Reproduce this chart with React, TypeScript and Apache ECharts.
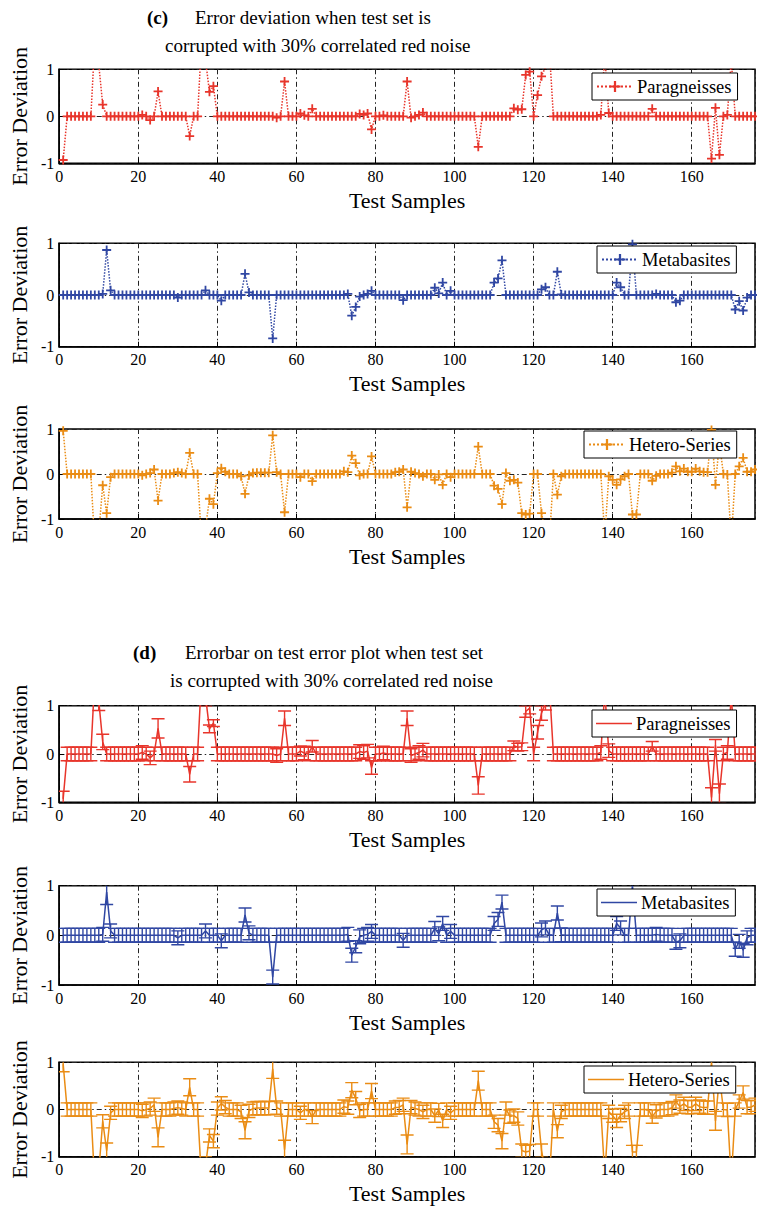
import React, { useEffect, useRef } from "react";
import * as echarts from "echarts";

const FONT = "'Liberation Serif', 'Times New Roman', serif";

const seriesNames = ["Paragneisses", "Metabasites", "Hetero-Series"];
const seriesColors = ["#e8352b", "#3047a3", "#ea8c14"];
const xTickInterval = 20;
const xMax = 176;
const yTicks = [-1, 0, 1];

// Error deviation per test sample (samples 1..176)
const paragneisses = [
  -0.93, 0, 0, 0, 0, 0, 0, 0, 1.6, 1.1,
  0.25, 0, 0, 0, 0, 0, 0, 0, 0, 0,
  0.03, 0, -0.08, 0, 0.53, 0, 0, 0, 0, 0,
  0, 0, -0.42, 0, 0, 1.6, 1.2, 0.52, 0.64, 0,
  0, 0, 0, 0, 0, 0, 0, 0, 0, 0,
  0, 0, 0, 0, -0.03, 0, 0.74, 0, 0, 0,
  0.06, 0.02, 0, 0.16, 0, 0, 0, 0, 0, 0,
  0, 0, 0, 0, 0, 0.05, 0.03, 0.06, -0.28, 0,
  0, 0.02, 0, 0, 0, 0, 0, 0.74, -0.03, 0,
  0.03, 0.08, 0, 0, 0, 0, 0, 0, 0, 0,
  0, 0, 0, 0, 0, -0.65, 0, 0, 0, 0,
  0, 0, 0, 0, 0.17, 0.14, 0.15, 0.88, 0.95, 0,
  0.45, 0.85, 1.05, 1.4, 0, 0, 0, 0, 0, 0,
  0, 0, 0, 0, 0, 0, 0.03, 1.3, 0.07, 0,
  0, 0, 0, 0, 0, 0, 0, 0, 0, 0.16,
  0, 0, 0, 0, 0, 0, 0, 0, 0, 0,
  0, 0, 0, 0, -0.9, 0.18, -0.82, 0, 0.03, 1.2,
  0, 0, 0, 0, 0, 0,
];

const metabasites = [
  0, 0, 0, 0, 0, 0, 0, 0, 0, 0,
  0.02, 0.87, 0.09, 0, 0, 0, 0, 0, 0, 0,
  0, 0, 0, 0, 0, 0, 0, 0, 0, -0.05,
  0, 0, 0, 0, 0, 0, 0.09, 0, 0, 0,
  -0.11, 0, 0, 0, 0, 0, 0.41, 0.05, 0, 0,
  0, 0, 0, -0.84, 0, 0, 0, 0, 0, 0,
  0, 0, 0, 0, 0, 0, 0, 0, 0, 0,
  0, 0, 0.02, -0.4, -0.23, -0.03, 0, 0.02, 0.08, 0,
  0, 0, 0, 0, 0, 0, -0.1, 0, 0, 0,
  0, 0, 0, 0, 0.14, 0.03, 0.24, 0, 0.08, 0,
  0, 0, 0, 0, 0, 0, 0, 0, 0, 0.24,
  0.32, 0.67, 0, 0, 0, 0, 0, 0, 0, 0,
  0, 0.11, 0.15, 0, 0, 0.45, 0.01, 0, 0, 0,
  0, 0, 0, 0, 0, 0, 0, 0, 0, 0,
  0.24, 0.15, 0, 0, 0.98, 0, 0, 0, 0, 0,
  0.02, 0, 0, 0, 0, -0.14, -0.11, 0, 0, 0,
  0, 0, 0, 0, 0, 0, 0, 0, 0, 0,
  -0.28, -0.12, -0.3, -0.05, 0, 0,
];

const heteroSeries = [
  0.96, 0, 0, 0, 0, 0, 0, 0, -1.6, -1.32,
  -0.25, -0.87, -0.07, 0, 0, 0, 0, 0, 0, 0,
  -0.03, 0, 0.02, 0.1, -0.59, 0, 0, 0, 0.02, 0.04,
  0.02, 0, 0.47, 0, 0, -1.5, -1.2, -0.55, -0.67, 0.02,
  0.13, 0.05, 0, 0, 0, -0.05, -0.44, -0.03, 0.02, 0.03,
  0.03, 0.03, 0.03, 0.86, 0.04, 0, -0.85, 0, 0, 0,
  -0.07, 0, 0, -0.16, 0, 0, 0, 0, 0, 0,
  0, 0.06, 0.04, 0.41, 0.24, -0.03, 0, 0, 0.39, 0,
  0, 0, 0, 0, 0.04, 0.05, 0.1, -0.74, 0.05, 0.02,
  0, -0.05, 0, 0, -0.13, -0.01, -0.24, 0, -0.07, 0,
  0, 0, 0, 0, 0, 0.61, 0, 0, 0, -0.26,
  -0.33, -0.67, 0.02, -0.15, -0.13, -0.19, -0.87, -0.9, -0.88, 0,
  0, -0.87, -1.3, -1.5, 0, -0.46, -0.05, 0, 0, 0,
  0, 0, 0, 0, 0, 0, 0, -1.4, -0.05, -0.13,
  -0.24, -0.12, -0.05, 0, -0.9, -0.9, 0, 0, 0, -0.15,
  -0.04, 0, 0, 0, 0.03, 0.17, 0.06, 0.12, 0.05, 0.05,
  0.12, 0.06, 0.04, 0.04, 0.98, -0.24, 0.7, 0, -0.01, -1.5,
  0, 0.17, 0.36, 0.05, 0.05, 0.1,
];

// Error-bar half lengths for the (d) panels
const paragneissesErr = [
  0.16, 0.14, 0.14, 0.14, 0.14, 0.14, 0.14, 0.14, 0.2, 0.2,
  0.16, 0.14, 0.14, 0.14, 0.14, 0.14, 0.14, 0.14, 0.14, 0.14,
  0.14, 0.14, 0.14, 0.14, 0.2, 0.14, 0.14, 0.14, 0.14, 0.14,
  0.14, 0.14, 0.16, 0.14, 0.14, 0.2, 0.2, 0.08, 0.07, 0.14,
  0.14, 0.14, 0.14, 0.14, 0.14, 0.14, 0.14, 0.14, 0.14, 0.14,
  0.14, 0.14, 0.14, 0.14, 0.14, 0.14, 0.15, 0.14, 0.14, 0.14,
  0.1, 0.14, 0.14, 0.12, 0.14, 0.14, 0.14, 0.14, 0.14, 0.14,
  0.14, 0.14, 0.14, 0.14, 0.14, 0.14, 0.14, 0.14, 0.14, 0.14,
  0.14, 0.14, 0.14, 0.14, 0.14, 0.14, 0.14, 0.15, 0.14, 0.14,
  0.14, 0.14, 0.14, 0.14, 0.14, 0.14, 0.14, 0.14, 0.14, 0.14,
  0.14, 0.14, 0.14, 0.14, 0.14, 0.18, 0.14, 0.14, 0.14, 0.14,
  0.14, 0.14, 0.14, 0.14, 0.1, 0.08, 0.08, 0.12, 0.12, 0.14,
  0.14, 0.15, 0.14, 0.14, 0.14, 0.14, 0.14, 0.14, 0.14, 0.14,
  0.14, 0.14, 0.14, 0.14, 0.14, 0.14, 0.14, 0.14, 0.14, 0.14,
  0.14, 0.14, 0.14, 0.14, 0.14, 0.14, 0.14, 0.14, 0.14, 0.1,
  0.14, 0.14, 0.14, 0.14, 0.14, 0.14, 0.14, 0.14, 0.14, 0.14,
  0.14, 0.14, 0.14, 0.14, 0.2, 0.12, 0.2, 0.14, 0.14, 0.14,
  0.14, 0.14, 0.14, 0.14, 0.14, 0.14,
];

const metabasitesErr = [
  0.14, 0.14, 0.14, 0.14, 0.14, 0.14, 0.14, 0.14, 0.14, 0.14,
  0.14, 0.25, 0.14, 0.14, 0.14, 0.14, 0.14, 0.14, 0.14, 0.14,
  0.14, 0.14, 0.14, 0.14, 0.14, 0.14, 0.14, 0.14, 0.14, 0.14,
  0.14, 0.14, 0.14, 0.14, 0.14, 0.14, 0.14, 0.14, 0.14, 0.14,
  0.14, 0.14, 0.14, 0.14, 0.14, 0.14, 0.14, 0.14, 0.14, 0.14,
  0.14, 0.14, 0.14, 0.14, 0.14, 0.14, 0.14, 0.14, 0.14, 0.14,
  0.14, 0.14, 0.14, 0.14, 0.14, 0.14, 0.14, 0.14, 0.14, 0.14,
  0.14, 0.14, 0.14, 0.14, 0.12, 0.14, 0.14, 0.14, 0.14, 0.14,
  0.14, 0.14, 0.14, 0.14, 0.14, 0.14, 0.14, 0.14, 0.14, 0.14,
  0.14, 0.14, 0.14, 0.14, 0.14, 0.14, 0.14, 0.14, 0.14, 0.14,
  0.14, 0.14, 0.14, 0.14, 0.14, 0.14, 0.14, 0.14, 0.14, 0.14,
  0.14, 0.14, 0.14, 0.14, 0.14, 0.14, 0.14, 0.14, 0.14, 0.14,
  0.14, 0.14, 0.14, 0.14, 0.14, 0.14, 0.14, 0.14, 0.14, 0.14,
  0.14, 0.14, 0.14, 0.14, 0.14, 0.14, 0.14, 0.14, 0.14, 0.14,
  0.14, 0.14, 0.14, 0.14, 0.14, 0.14, 0.14, 0.14, 0.14, 0.14,
  0.14, 0.14, 0.14, 0.14, 0.14, 0.14, 0.14, 0.14, 0.14, 0.14,
  0.14, 0.14, 0.14, 0.14, 0.14, 0.14, 0.14, 0.14, 0.14, 0.14,
  0.14, 0.14, 0.14, 0.14, 0.14, 0.14,
];

const heteroSeriesErr = [
  0.16, 0.14, 0.14, 0.14, 0.14, 0.14, 0.14, 0.14, 0.2, 0.2,
  0.14, 0.16, 0.14, 0.14, 0.14, 0.14, 0.14, 0.14, 0.14, 0.14,
  0.14, 0.14, 0.14, 0.14, 0.2, 0.14, 0.14, 0.14, 0.14, 0.14,
  0.14, 0.14, 0.18, 0.14, 0.14, 0.2, 0.2, 0.14, 0.14, 0.14,
  0.14, 0.14, 0.14, 0.14, 0.14, 0.14, 0.18, 0.14, 0.14, 0.14,
  0.14, 0.14, 0.14, 0.2, 0.14, 0.14, 0.2, 0.14, 0.14, 0.14,
  0.14, 0.14, 0.14, 0.14, 0.14, 0.14, 0.14, 0.14, 0.14, 0.14,
  0.14, 0.14, 0.14, 0.16, 0.14, 0.14, 0.14, 0.14, 0.16, 0.14,
  0.14, 0.14, 0.14, 0.14, 0.14, 0.14, 0.14, 0.2, 0.14, 0.14,
  0.14, 0.14, 0.14, 0.14, 0.14, 0.14, 0.14, 0.14, 0.14, 0.14,
  0.14, 0.14, 0.14, 0.14, 0.14, 0.2, 0.14, 0.14, 0.14, 0.14,
  0.14, 0.16, 0.14, 0.14, 0.14, 0.14, 0.14, 0.14, 0.14, 0.14,
  0.14, 0.14, 0.14, 0.14, 0.14, 0.14, 0.14, 0.14, 0.14, 0.14,
  0.14, 0.14, 0.14, 0.14, 0.14, 0.14, 0.14, 0.14, 0.14, 0.14,
  0.14, 0.14, 0.14, 0.14, 0.14, 0.14, 0.14, 0.14, 0.14, 0.14,
  0.14, 0.14, 0.14, 0.14, 0.14, 0.14, 0.14, 0.14, 0.14, 0.14,
  0.14, 0.14, 0.14, 0.14, 0.14, 0.2, 0.14, 0.14, 0.14, 0.14,
  0.14, 0.14, 0.14, 0.14, 0.14, 0.14,
];

const titleC = ["(c)", "Error deviation when test set is", "corrupted with 30% correlated red noise"];
const titleD = ["(d)", "Errorbar on test error plot when test set", "is corrupted with 30% correlated red noise"];

const PLUS =
  "path://M4,0 L6,0 L6,4 L10,4 L10,6 L6,6 L6,10 L4,10 L4,6 L0,6 L0,4 L4,4 Z";
const LINE_ICON = "path://M0,0 L36,0 L36,1.6 L0,1.6 Z";

const GRID_LEFT = 57.5;
const GRID_WIDTH = 697.5;
const panelLayout = [
  { top: 69.3, height: 94 },
  { top: 243.3, height: 103.4 },
  { top: 429, height: 90 },
  { top: 705.7, height: 96.6 },
  { top: 885.7, height: 99.3 },
  { top: 1062.3, height: 94.4 },
];
const legendLayout = [
  { left: 592, top: 73 },
  { left: 597, top: 246 },
  { left: 584, top: 431 },
  { left: 592, top: 710 },
  { left: 597, top: 889 },
  { left: 584, top: 1066 },
];

function App() {
  const ref = useRef<HTMLDivElement>(null);

  useEffect(() => {
    const chart = echarts.init(ref.current!, null, { renderer: "svg" });
    const values = [paragneisses, metabasites, heteroSeries];
    const errs = [paragneissesErr, metabasitesErr, heteroSeriesErr];
    const sampleIndex = paragneisses.map((_, i) => i + 1);

    const dashDot = [5, 3, 1.5, 3];

    const grid = panelLayout.map((p) => ({
      left: GRID_LEFT,
      width: GRID_WIDTH,
      top: p.top,
      height: p.height,
      show: true,
      borderColor: "#000",
      borderWidth: 1.5,
      backgroundColor: "transparent",
    }));

    const xAxis = panelLayout.map((_, i) => ({
      type: "value",
      gridIndex: i,
      min: 0,
      max: xMax,
      interval: xTickInterval,
      axisLine: { show: true, onZero: false, lineStyle: { color: "#000", width: 1.5 } },
      axisTick: { show: true, inside: true, length: 5, lineStyle: { color: "#000" } },
      axisLabel: {
        color: "#000",
        fontFamily: FONT,
        fontSize: 16,
        margin: 5,
        showMaxLabel: false,
      },
      splitLine: { show: true, lineStyle: { color: "#222", width: 1, type: dashDot } },
      name: "Test Samples",
      nameLocation: "middle",
      nameGap: 26,
      nameTextStyle: { color: "#000", fontFamily: FONT, fontSize: 22 },
    }));

    const yAxis = panelLayout.map((_, i) => ({
      type: "value",
      gridIndex: i,
      min: yTicks[0],
      max: yTicks[yTicks.length - 1],
      interval: 1,
      axisLine: { show: true, onZero: false, lineStyle: { color: "#000", width: 1.5 } },
      axisTick: { show: true, inside: true, length: 5, lineStyle: { color: "#000" } },
      axisLabel: { color: "#000", fontFamily: FONT, fontSize: 16, margin: 5 },
      splitLine: { show: true, lineStyle: { color: "#222", width: 1, type: dashDot } },
      name: "Error Deviation",
      nameLocation: "middle",
      nameGap: 28,
      nameRotate: 90,
      nameTextStyle: { color: "#000", fontFamily: FONT, fontSize: 22 },
    }));

    const series: any[] = [];
    // (c) panels: dotted line with plus markers
    values.forEach((vals, s) => {
      series.push({
        type: "line",
        name: seriesNames[s],
        xAxisIndex: s,
        yAxisIndex: s,
        data: sampleIndex.map((x, k) => [x, vals[k]]),
        symbol: PLUS,
        symbolSize: 9,
        showAllSymbol: true,
        clip: true,
        lineStyle: { type: "dotted", width: 1.5, color: seriesColors[s] },
        itemStyle: { color: seriesColors[s] },
        z: 3,
      });
    });
    // (d) panels: error bars and mean line
    values.forEach((vals, s) => {
      const color = seriesColors[s];
      const ax = s + 3;
      series.push({
        type: "custom",
        name: "errbar-" + s,
        xAxisIndex: ax,
        yAxisIndex: ax,
        clip: true,
        data: sampleIndex.map((x, k) => [x, vals[k], errs[s][k]]),
        encode: { x: 0, y: 1 },
        renderItem: (params: any, api: any) => {
          const x = api.value(0);
          const y = api.value(1);
          const e = api.value(2);
          const p1 = api.coord([x, y + e]);
          const p2 = api.coord([x, y - e]);
          const hw = 6.5;
          const style = { stroke: color, lineWidth: 1.4, fill: null };
          return {
            type: "group",
            children: [
              { type: "line", shape: { x1: p1[0], y1: p1[1], x2: p2[0], y2: p2[1] }, style },
              { type: "line", shape: { x1: p1[0] - hw, y1: p1[1], x2: p1[0] + hw, y2: p1[1] }, style },
              { type: "line", shape: { x1: p2[0] - hw, y1: p2[1], x2: p2[0] + hw, y2: p2[1] }, style },
            ],
          };
        },
        z: 2,
      });
      series.push({
        type: "line",
        name: seriesNames[s] + " (d)",
        xAxisIndex: ax,
        yAxisIndex: ax,
        data: sampleIndex.map((x, k) => [x, vals[k]]),
        symbol: "none",
        clip: true,
        lineStyle: { type: "solid", width: 1.5, color },
        itemStyle: { color },
        z: 3,
      });
    });

    const legend = legendLayout.map((l, i) => ({
      data:
        i < 3
          ? [seriesNames[i]]
          : [{ name: seriesNames[i - 3] + " (d)", icon: LINE_ICON }],
      left: l.left,
      top: l.top,
      orient: "horizontal",
      itemWidth: 36,
      itemHeight: 14,
      itemGap: 0,
      selectedMode: false,
      formatter: (name: string) => name.replace(" (d)", ""),
      textStyle: { color: "#000", fontFamily: FONT, fontSize: 18.5, padding: [0, 0, 0, -1] },
      borderColor: "#000",
      borderWidth: 1,
      borderRadius: 0,
      backgroundColor: "#fff",
      padding: [4, 6, 4, 4],
      z: 10,
    }));

    const titleFont = (bold: boolean) =>
      `${bold ? "bold " : ""}19px ${FONT}`;
    const graphic = [
      { type: "text", x: 147, y: 17, style: { text: titleC[0], font: titleFont(true), fill: "#000", textVerticalAlign: "middle" } },
      { type: "text", x: 195, y: 17, style: { text: titleC[1], font: titleFont(false), fill: "#000", textVerticalAlign: "middle" } },
      { type: "text", x: 165, y: 45, style: { text: titleC[2], font: titleFont(false), fill: "#000", textVerticalAlign: "middle" } },
      { type: "text", x: 133, y: 652, style: { text: titleD[0], font: titleFont(true), fill: "#000", textVerticalAlign: "middle" } },
      { type: "text", x: 185, y: 652, style: { text: titleD[1], font: titleFont(false), fill: "#000", textVerticalAlign: "middle" } },
      { type: "text", x: 170, y: 680, style: { text: titleD[2], font: titleFont(false), fill: "#000", textVerticalAlign: "middle" } },
    ];

    chart.setOption({
      animation: false,
      backgroundColor: "#fff",
      grid,
      xAxis,
      yAxis,
      legend,
      series,
      graphic,
    });

    return () => chart.dispose();
  }, []);

  return (
    <div
      ref={ref}
      style={{ position: "fixed", left: 0, top: 0, width: 757, height: 1212, background: "#fff" }}
    />
  );
}

export default App;
